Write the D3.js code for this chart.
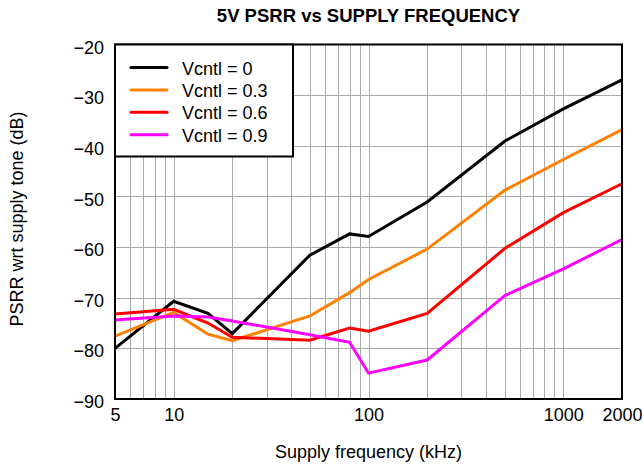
<!DOCTYPE html>
<html>
<head>
<meta charset="utf-8">
<script src="https://cdn.jsdelivr.net/npm/d3@7/dist/d3.min.js"></script>
<style>
  html, body { margin: 0; padding: 0; background: #fff; }
  svg { display: block; font-family: "Liberation Sans", Arial, sans-serif; }
</style>
</head>
<body>
<svg id="chart" width="642" height="467"></svg>
<script>
// Supply frequency (kHz) for each measured point
const freqs = [5, 10, 15, 20, 50, 80, 100, 200, 500, 1000, 2000];

// PSRR (dB) per control voltage
const vc0  = [-80.0, -70.7, -73.1, -77.1, -61.6, -57.4, -57.9, -51.1, -39.1, -32.7, -27.0];
const vc03 = [-77.6, -72.9, -77.2, -78.5, -73.6, -69.0, -66.4, -60.4, -48.8, -42.7, -36.8];
const vc06 = [-73.2, -72.3, -75.0, -77.8, -78.4, -76.0, -76.6, -73.1, -60.3, -53.2, -47.5];
const vc09 = [-74.4, -73.6, -73.8, -74.6, -77.3, -78.8, -84.9, -82.3, -69.6, -64.3, -58.5];

const seriesNames  = ["Vcntl = 0", "Vcntl = 0.3", "Vcntl = 0.6", "Vcntl = 0.9"];
const seriesValues = [vc0, vc03, vc06, vc09];
const seriesColors = ["#000000", "#ff8000", "#ff0000", "#ff00ff"];

const xTickValues = [5, 10, 100, 1000, 2000];
const yTickValues = [-90, -80, -70, -60, -50, -40, -30, -20];

const svg = d3.select("#chart");
const m = { left: 115, right: 622, top: 44.5, bottom: 399 };

const x = d3.scaleLog().domain([5, 2000]).range([m.left, m.right]);
const y = d3.scaleLinear().domain([-90, -20]).range([m.bottom, m.top]);

// Vertical grid at every 1..9 × decade step
const gridX = [];
[1, 10, 100, 1000].forEach(dec => {
  for (let k = 1; k <= 9; k++) {
    const v = dec * k;
    if (v > 5 && v < 2000) gridX.push(v);
  }
});

const grid = svg.append("g").attr("stroke", "#aaaaaa").attr("stroke-width", 1);
grid.selectAll("line.gx").data(gridX).join("line")
  .attr("x1", d => Math.round(x(d)) + 0.5).attr("x2", d => Math.round(x(d)) + 0.5)
  .attr("y1", m.top).attr("y2", m.bottom);
grid.selectAll("line.gy").data(yTickValues.slice(1, -1)).join("line")
  .attr("x1", m.left).attr("x2", m.right)
  .attr("y1", d => Math.round(y(d)) + 0.5).attr("y2", d => Math.round(y(d)) + 0.5);

// Data lines
const line = d3.line().x((d, i) => x(freqs[i])).y(d => y(d));
const plot = svg.append("g");
seriesValues.forEach((vals, i) => {
  plot.append("path")
    .datum(vals)
    .attr("fill", "none")
    .attr("stroke", seriesColors[i])
    .attr("stroke-width", 3)
    .attr("stroke-linejoin", "miter")
    .attr("d", line);
});

// Axes (labels only; frame drawn separately)
const fmtY = d => d < 0 ? "\u2212" + Math.abs(d) : String(d);
const yAxis = svg.append("g")
  .attr("transform", `translate(${m.left},0)`)
  .call(d3.axisLeft(y).tickValues(yTickValues).tickFormat(fmtY).tickSize(0).tickPadding(11));
yAxis.select(".domain").remove();
yAxis.selectAll("text").attr("font-size", 18).attr("fill", "#000").attr("dy", "0.48em")
  .attr("font-family", "Liberation Sans, Arial, sans-serif");

const xAxis = svg.append("g")
  .attr("transform", `translate(0,${m.bottom})`)
  .call(d3.axisBottom(x).tickValues(xTickValues).tickFormat(d3.format("d")).tickSize(0).tickPadding(9));
xAxis.select(".domain").remove();
xAxis.selectAll("text").attr("font-size", 18).attr("fill", "#000")
  .attr("font-family", "Liberation Sans, Arial, sans-serif");

// Plot frame
svg.append("rect")
  .attr("x", m.left).attr("y", m.top)
  .attr("width", m.right - m.left).attr("height", m.bottom - m.top)
  .attr("fill", "none").attr("stroke", "#000").attr("stroke-width", 2);

// Legend
const lg = svg.append("g");
lg.append("rect")
  .attr("x", m.left).attr("y", m.top)
  .attr("width", 178).attr("height", 112)
  .attr("fill", "#fff").attr("stroke", "#000").attr("stroke-width", 2);
seriesNames.forEach((name, i) => {
  const yy = 67.5 + i * 22.4;
  lg.append("line")
    .attr("x1", 131).attr("x2", 167).attr("y1", yy).attr("y2", yy)
    .attr("stroke", seriesColors[i]).attr("stroke-width", 3).attr("stroke-linecap", "round");
  lg.append("text")
    .attr("x", 182).attr("y", yy + 7)
    .attr("font-size", 18).text(name);
});

// Titles
svg.append("text")
  .attr("x", (m.left + m.right) / 2).attr("y", 22)
  .attr("text-anchor", "middle").attr("font-size", 18.5).attr("font-weight", "bold")
  .text("5V PSRR vs SUPPLY FREQUENCY");

svg.append("text")
  .attr("x", (m.left + m.right) / 2).attr("y", 458)
  .attr("text-anchor", "middle").attr("font-size", 18)
  .text("Supply frequency (kHz)");

svg.append("text")
  .attr("transform", `translate(23,219) rotate(-90)`)
  .attr("text-anchor", "middle").attr("font-size", 18)
  .text("PSRR wrt supply tone (dB)");
</script>
</body>
</html>
